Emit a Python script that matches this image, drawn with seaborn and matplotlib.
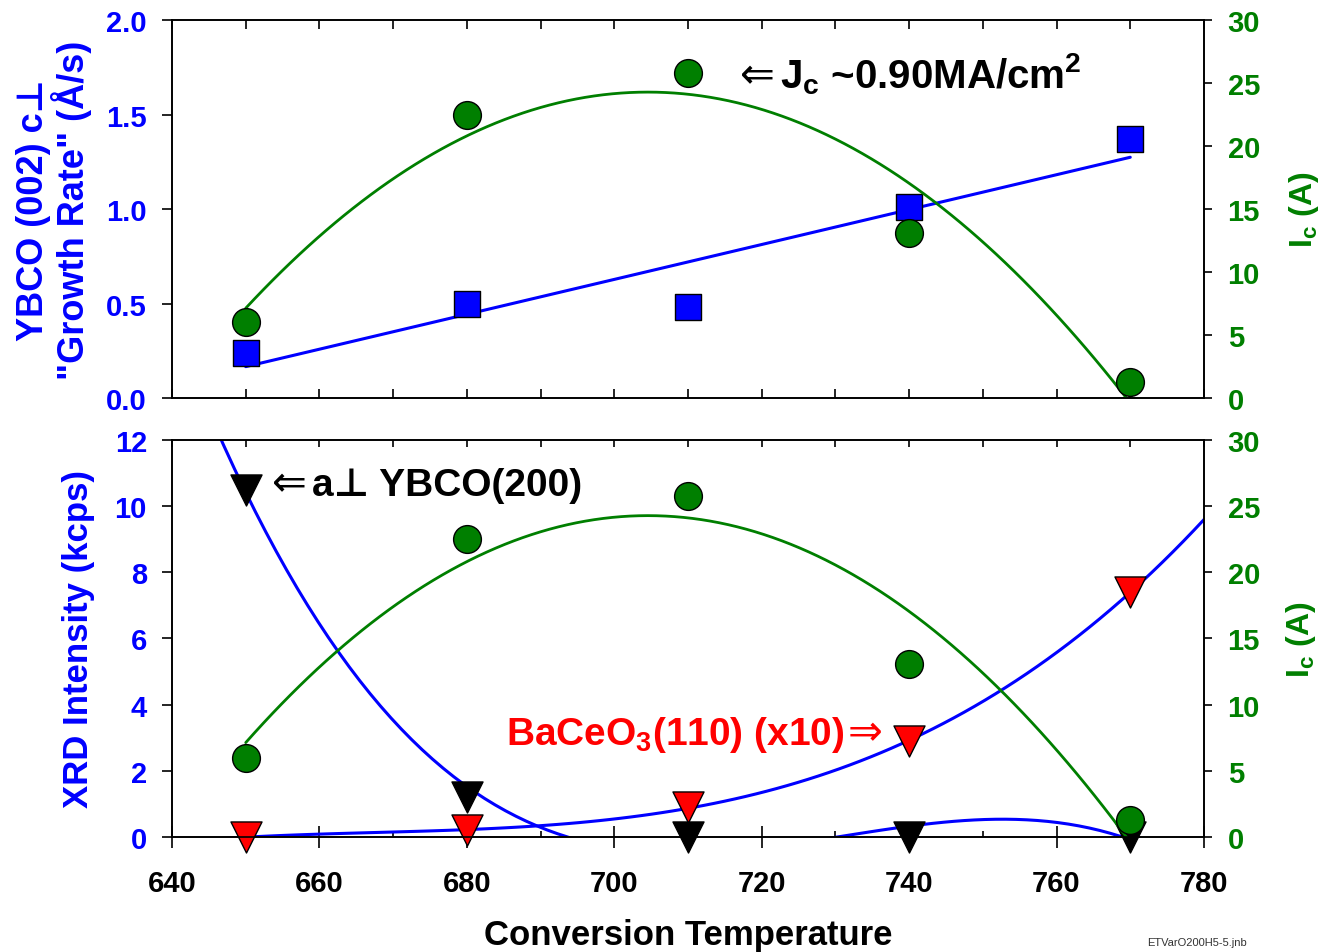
import matplotlib
matplotlib.use("Agg")
import matplotlib.pyplot as plt
from matplotlib.ticker import MultipleLocator, FormatStrFormatter
import seaborn as sns

# conversion temperatures (C)
temps = [650, 680, 710, 740, 770]
# top panel: YBCO (002) growth rate and critical current
growth_rate = [0.24, 0.50, 0.48, 1.01, 1.37]
ic_amps = [6.0, 22.5, 25.8, 13.1, 1.3]
# bottom panel: XRD intensities (kcps)
a_axis_200 = [10.5, 1.2, 0.0, 0.0, 0.0]
baceo3_110 = [0.0, 0.2, 0.9, 2.9, 7.4]

BLUE = "#0000FF"
GREEN = "#007F00"
RED = "#FF0000"

sns.set_style("ticks")
plt.rcParams["font.family"] = ["Liberation Sans", "DejaVu Sans"]
plt.rcParams["font.weight"] = "bold"
plt.rcParams["axes.labelweight"] = "bold"
plt.rcParams["mathtext.default"] = "regular"
plt.rcParams["axes.linewidth"] = 1.2
plt.rcParams["axes.edgecolor"] = "black"
plt.rcParams["axes.labelcolor"] = "black"
plt.rcParams["text.color"] = "black"
plt.rcParams["xtick.color"] = "black"
plt.rcParams["ytick.color"] = "black"

fig = plt.figure(figsize=(13.2, 9.53), dpi=100)
ax_top = fig.add_axes([0.1303, 0.5813, 0.7818, 0.3966])
ax_bot = fig.add_axes([0.1303, 0.1207, 0.7818, 0.4166])

# ---------- top panel ----------
ax_top.set_xlim(640, 780)
sns.regplot(x=temps, y=growth_rate, ax=ax_top, ci=None, scatter=False,
            color=BLUE, line_kws=dict(lw=2.2))
sns.scatterplot(x=temps, y=growth_rate, ax=ax_top, marker="s", s=350,
                color=BLUE, edgecolor="black", linewidth=1, zorder=5, clip_on=False)
ax_top.set_xlim(640, 780)
ax_top.set_ylim(0, 2.0)

ax_top2 = ax_top.twinx()
sns.regplot(x=temps, y=ic_amps, ax=ax_top2, order=2, ci=None, scatter=False,
            color=GREEN, line_kws=dict(lw=2))
sns.scatterplot(x=temps, y=ic_amps, ax=ax_top2, marker="o", s=400,
                color=GREEN, edgecolor="black", linewidth=1, zorder=5, clip_on=False)
ax_top2.set_ylim(0, 30)

ax_top.xaxis.set_major_locator(MultipleLocator(10))
ax_top.tick_params(axis="x", which="both", direction="in", length=6.5, width=1.2,
                   top=True, bottom=True, labelbottom=False)
ax_top.yaxis.set_major_locator(MultipleLocator(0.5))
ax_top.yaxis.set_major_formatter(FormatStrFormatter("%.1f"))
ax_top.tick_params(axis="y", direction="out", length=7, width=1.2, labelsize=21,
                   labelcolor=BLUE, pad=11)
ax_top2.yaxis.set_major_locator(MultipleLocator(5))
ax_top2.tick_params(axis="y", direction="out", length=6, width=1.2, labelsize=21,
                    labelcolor=GREEN, pad=11)

ax_top.set_ylabel('YBCO (002) c\u22a5\n"Growth Rate" (\u00c5/s)', color=BLUE,
                  fontsize=26, linespacing=1.0)
ax_top.yaxis.set_label_coords(-0.078, 0.5)
ax_top2.set_ylabel("I$_c$ (A)", color=GREEN, fontsize=23)
ax_top2.yaxis.set_label_coords(1.080, 0.5)

ax_top.text(721.8, 1.646, "\u21d0", ha="right", va="baseline", fontsize=30,
            family="DejaVu Sans", weight="normal", color="black")
ax_top.text(722.5, 1.646, "J$_c$ ~0.90MA/cm$^2$", ha="left", va="baseline",
            fontsize=29, color="black")

# ---------- bottom panel ----------
ax_bot.set_xlim(640, 780)
ax_bot.set_ylim(0, 12)
sns.regplot(x=temps, y=a_axis_200, ax=ax_bot, order=3, ci=None, scatter=False,
            truncate=False, color=BLUE, line_kws=dict(lw=2.2))
sns.regplot(x=temps, y=baceo3_110, ax=ax_bot, order=3, ci=None, scatter=False,
            truncate=False, color=BLUE, line_kws=dict(lw=2.2))
sns.scatterplot(x=temps, y=a_axis_200, ax=ax_bot, marker="v", s=500,
                color="black", edgecolor="black", linewidth=1, zorder=5, clip_on=False)
sns.scatterplot(x=temps, y=baceo3_110, ax=ax_bot, marker="v", s=500,
                color=RED, edgecolor="black", linewidth=1, zorder=6, clip_on=False)
ax_bot.set_xlim(640, 780)
ax_bot.set_ylim(0, 12)

ax_bot2 = ax_bot.twinx()
sns.regplot(x=temps, y=ic_amps, ax=ax_bot2, order=2, ci=None, scatter=False,
            color=GREEN, line_kws=dict(lw=2))
sns.scatterplot(x=temps, y=ic_amps, ax=ax_bot2, marker="o", s=400,
                color=GREEN, edgecolor="black", linewidth=1, zorder=5, clip_on=False)
ax_bot2.set_ylim(0, 30)

ax_bot.xaxis.set_major_locator(MultipleLocator(20))
ax_bot.xaxis.set_minor_locator(MultipleLocator(10))
ax_bot.tick_params(axis="x", which="major", direction="inout", length=16, width=1.2,
                   top=False, bottom=True, labelsize=21, pad=15)
ax_bot.tick_params(axis="x", which="minor", direction="in", length=4.5, width=1.2,
                   top=False, bottom=True)
ax_bot2.xaxis.set_visible(True)
ax_bot2.tick_params(axis="x", which="both", direction="in", length=5, width=1.2,
                    top=True, bottom=False, labeltop=False, labelbottom=False)
ax_bot.yaxis.set_major_locator(MultipleLocator(2))
ax_bot.tick_params(axis="y", direction="out", length=7, width=1.2, labelsize=21,
                   labelcolor=BLUE, pad=11)
ax_bot2.yaxis.set_major_locator(MultipleLocator(5))
ax_bot2.tick_params(axis="y", direction="out", length=6, width=1.2, labelsize=21,
                    labelcolor=GREEN, pad=11)

ax_bot.set_xlabel("Conversion Temperature", fontsize=25)
ax_bot.xaxis.set_label_coords(0.5, -0.205)
ax_bot.set_ylabel("XRD Intensity (kcps)", color=BLUE, fontsize=25)
ax_bot.yaxis.set_label_coords(-0.075, 0.5)
ax_bot2.set_ylabel("I$_c$ (A)", color=GREEN, fontsize=23)
ax_bot2.yaxis.set_label_coords(1.078, 0.5)

ax_bot.text(658.3, 10.34, "\u21d0", ha="right", va="baseline", fontsize=30,
            family="DejaVu Sans", weight="normal", color="black")
ax_bot.text(659.0, 10.34, "a\u22a5 YBCO(200)", ha="left", va="baseline",
            fontsize=28, color="black")
ax_bot.text(731.3, 2.81, "BaCeO$_3$(110) (x10)", ha="right", va="baseline",
            fontsize=28, color=RED)
ax_bot.text(731.7, 2.81, "\u21d2", ha="left", va="baseline", fontsize=30,
            family="DejaVu Sans", weight="normal", color=RED)

fig.text(0.869, 0.0105, "ETVarO200H5-5.jnb", fontsize=8, weight="normal",
         color="#333333", va="center")

fig.savefig("out.png", dpi=100)
